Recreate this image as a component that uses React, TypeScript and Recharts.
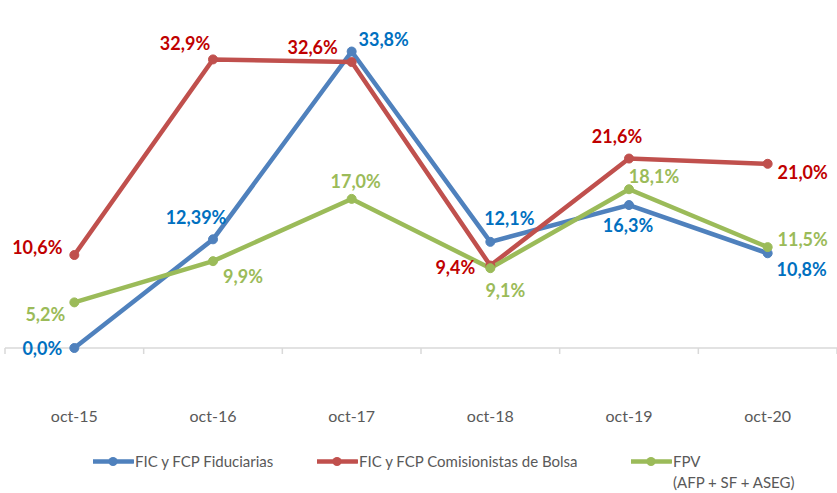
import React from "react";
import { Legend, Line, LineChart, XAxis, YAxis } from "recharts";

const periods = ["oct-15", "oct-16", "oct-17", "oct-18", "oct-19", "oct-20"];
const fiduciarias = [0.0, 12.39, 33.8, 12.1, 16.3, 10.8];
const comisionistas = [10.6, 32.9, 32.6, 9.4, 21.6, 21.0];
const fpv = [5.2, 9.9, 17.0, 9.1, 18.1, 11.5];
const fiduciariasLabels = ["0,0%", "12,39%", "33,8%", "12,1%", "16,3%", "10,8%"];
const comisionistasLabels = ["10,6%", "32,9%", "32,6%", "9,4%", "21,6%", "21,0%"];
const fpvLabels = ["5,2%", "9,9%", "17,0%", "9,1%", "18,1%", "11,5%"];
const seriesKeys = ["fiduciarias", "comisionistas", "fpv"];

const data = periods.map((period, i) => ({
  period,
  fiduciarias: fiduciarias[i],
  comisionistas: comisionistas[i],
  fpv: fpv[i],
}));

// label offsets from each point, [dx, dy] to the label centre
const fiduciariasOffsets = [[-32, 0], [-17, -22], [32, -13], [19, -24], [-1, 20], [34, 16]];
const comisionistasOffsets = [[-37, -8], [-28, -16], [-39, -15], [-35, 1], [-12, -23], [35, 8]];
const fpvOffsets = [[-29, 12], [30, 15], [4, -18], [15, 22], [25, -13], [35, -8]];

const WIDTH = 837;
const HEIGHT = 493;
const TOP = 41;
const LEFT = 5;
const AXIS_Y = 348;
const HALF_BAND = (WIDTH - LEFT) / periods.length / 2;
const FONT = "Lato, 'Open Sans', sans-serif";

const makeLabel = (texts: string[], offsets: number[][], color: string) =>
  (props: any) => {
    const { x, y, index } = props;
    const [dx, dy] = offsets[index];
    return (
      <text
        x={x + dx}
        y={y + dy}
        textAnchor="middle"
        dominantBaseline="central"
        fill={color}
        fontFamily={FONT}
        fontWeight={700}
        fontSize={18}
      >
        {texts[index]}
      </text>
    );
  };

const PeriodTick = (props: any) => {
  const { x, index, payload } = props;
  return (
    <g>
      <line x1={x - HALF_BAND} x2={x - HALF_BAND} y1={AXIS_Y} y2={AXIS_Y + 6} stroke="#D9D9D9" strokeWidth={1.5} />
      {index === periods.length - 1 && (
        <line x1={x + HALF_BAND} x2={x + HALF_BAND} y1={AXIS_Y} y2={AXIS_Y + 6} stroke="#D9D9D9" strokeWidth={1.5} />
      )}
      <text
        x={x}
        y={AXIS_Y + 67}
        textAnchor="middle"
        dominantBaseline="central"
        fill="#595959"
        fontFamily={FONT}
        fontSize={16}
      >
        {payload.value}
      </text>
    </g>
  );
};

const legendX = [93, 317, 631];

const renderLegend = (props: any) => {
  const items = [...(props.payload || [])].sort(
    (a: any, b: any) => seriesKeys.indexOf(a.dataKey) - seriesKeys.indexOf(b.dataKey)
  );
  return (
    <div style={{ position: "relative", height: 45, fontFamily: FONT, fontSize: 15, color: "#595959" }}>
      {items.map((entry: any, i: number) => {
        const lines = String(entry.value).split("\n");
        return (
          <div key={i} style={{ position: "absolute", left: legendX[i], top: 0, display: "flex" }}>
            <svg width={41} height={21} style={{ flexShrink: 0 }}>
              <line x1={0} x2={40} y1={10.5} y2={10.5} stroke={entry.color} strokeWidth={4.5} strokeLinecap="round" />
              <circle cx={20} cy={10.5} r={4.5} fill={entry.color} />
            </svg>
            <div style={{ lineHeight: "21px", whiteSpace: "nowrap", marginLeft: 1 }}>
              {lines.map((l, k) => (
                <div key={k}>{l}</div>
              ))}
            </div>
          </div>
        );
      })}
    </div>
  );
};

export default function App() {
  return (
    <div style={{ width: WIDTH, height: HEIGHT, background: "#fff" }}>
      <style>{"body{margin:0}"}</style>
      <LineChart
        width={WIDTH}
        height={HEIGHT}
        data={data}
        margin={{ top: TOP, right: 0, bottom: 0, left: LEFT }}
      >
        <XAxis
          dataKey="period"
          height={HEIGHT - AXIS_Y}
          padding={{ left: HALF_BAND, right: HALF_BAND }}
          axisLine={{ stroke: "#D9D9D9", strokeWidth: 1.5 }}
          tickLine={false}
          tick={<PeriodTick />}
          interval={0}
        />
        <YAxis hide domain={[0, 35]} />
        <Legend
          layout="horizontal"
          verticalAlign="middle"
          align="center"
          content={renderLegend}
          wrapperStyle={{ top: 451, left: 0, width: WIDTH }}
        />
        <Line
          dataKey="fiduciarias"
          name="FIC y FCP Fiduciarias"
          stroke="#4F81BD"
          strokeWidth={4.5}
          dot={{ r: 4.5, fill: "#4F81BD", stroke: "#4F81BD", strokeWidth: 1 }}
          label={makeLabel(fiduciariasLabels, fiduciariasOffsets, "#0070C0")}
          isAnimationActive={false}
        />
        <Line
          dataKey="comisionistas"
          name="FIC y FCP Comisionistas de Bolsa"
          stroke="#C0504D"
          strokeWidth={4.5}
          dot={{ r: 4.5, fill: "#C0504D", stroke: "#C0504D", strokeWidth: 1 }}
          label={makeLabel(comisionistasLabels, comisionistasOffsets, "#C00000")}
          isAnimationActive={false}
        />
        <Line
          dataKey="fpv"
          name={"FPV\n(AFP + SF + ASEG)"}
          stroke="#9BBB59"
          strokeWidth={4.5}
          dot={{ r: 4.5, fill: "#9BBB59", stroke: "#9BBB59", strokeWidth: 1 }}
          label={makeLabel(fpvLabels, fpvOffsets, "#9BBB59")}
          isAnimationActive={false}
        />
      </LineChart>
    </div>
  );
}
